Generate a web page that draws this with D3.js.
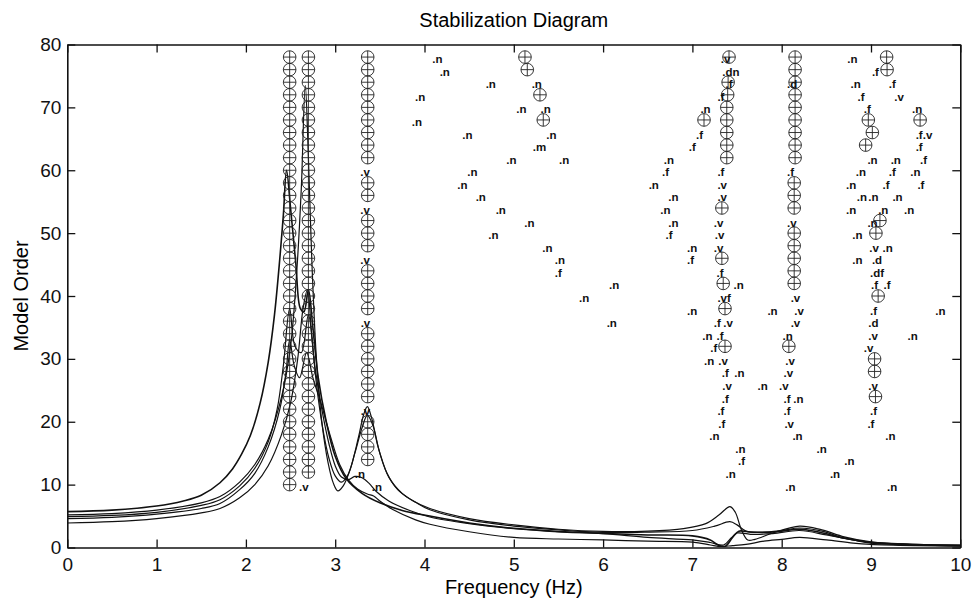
<!DOCTYPE html>
<html>
<head>
<meta charset="utf-8">
<script src="https://cdn.jsdelivr.net/npm/d3@7"></script>
<style>
body { margin: 0; background: #fff; }
svg { font-family: "Liberation Sans", Arial, Helvetica, sans-serif; }
</style>
</head>
<body>
<svg id="chart"></svg>
<script>
// axis ticks
const xTicks = [0, 1, 2, 3, 4, 5, 6, 7, 8, 9, 10];
const yTicks = [0, 10, 20, 30, 40, 50, 60, 70, 80];

// spectra of the channels, scaled onto the model order axis  [Hz, value]
const spectrum1 = [[0,5.7],[0.5,5.95],[1,6.6],[1.3,7.4],[1.5,8.3],[1.71,10.3],[1.85,12.5],[1.95,14.8],[2.05,17.8],[2.16,23],[2.25,29.5],[2.32,37],[2.38,46],[2.42,53],[2.455,60],[2.5,54],[2.56,45],[2.61,38],[2.65,37.5],[2.7,41],[2.75,35],[2.81,27],[2.9,20],[3.0,14.5],[3.12,11],[3.3,8.6],[3.5,7.1],[3.75,5.9],[4.06,5.0],[4.5,3.9],[5,3.05],[5.5,2.55],[6,2.25],[6.5,2.0],[7,1.85],[7.2,1.2],[7.3,0.3],[7.37,0.2],[7.45,1.6],[7.52,2.6],[7.62,2.5],[7.8,2.4],[8.0,2.6],[8.2,2.9],[8.4,2.5],[8.7,1.5],[9,0.8],[9.5,0.45],[10,0.3]];
const spectrum2 = [[0,5.2],[0.5,5.4],[1,5.95],[1.5,7.1],[1.71,8.1],[1.93,10.4],[2.1,13.2],[2.25,17.2],[2.4,24],[2.5,32],[2.57,44],[2.62,57],[2.665,73.5],[2.7,62],[2.74,45],[2.79,30],[2.85,20],[2.92,13.5],[2.98,10.2],[3.03,9.0],[3.09,9.8],[3.17,12.5],[3.26,17.5],[3.32,21.2],[3.36,22.4],[3.41,20.5],[3.48,16],[3.58,11.8],[3.7,9.2],[3.85,7.6],[4.06,6.2],[4.5,4.6],[5,3.6],[5.5,2.9],[6,2.55],[6.5,2.6],[6.9,3.0],[7.15,3.8],[7.3,5.2],[7.42,6.5],[7.48,5.6],[7.55,2.8],[7.62,1.2],[7.7,1.3],[7.9,2.3],[8.2,3.4],[8.45,2.8],[8.7,1.7],[9,0.9],[9.5,0.5],[10,0.4]];
const spectrum3 = [[0,4.9],[0.5,5.1],[1,5.6],[1.5,6.7],[1.71,7.6],[1.93,9.8],[2.1,12.6],[2.25,16.8],[2.35,22],[2.42,29],[2.49,38],[2.55,32],[2.62,31],[2.7,37],[2.77,29],[2.85,22],[2.93,16.5],[3.0,13],[3.07,11.2],[3.15,10.8],[3.22,11.3],[3.3,11.1],[3.38,10.2],[3.46,8.9],[3.6,7.4],[3.85,5.8],[4.06,4.85],[4.5,3.8],[5,3.0],[5.5,2.5],[6,2.2],[6.5,1.6],[7,1.2],[7.2,0.8],[7.35,0.4],[7.44,1.6],[7.5,2.3],[7.65,2.1],[7.9,2.2],[8.2,2.7],[8.5,2.0],[8.8,1.2],[9,0.7],[9.5,0.4],[10,0.25]];
const spectrum4 = [[0,4.6],[0.5,4.8],[1,5.3],[1.5,6.2],[1.71,7.0],[1.93,9.2],[2.1,11.8],[2.25,16],[2.38,22],[2.45,28],[2.49,33],[2.54,29],[2.6,27],[2.68,31],[2.75,27],[2.84,23],[2.94,18],[3.05,13.2],[3.15,10.7],[3.25,9.3],[3.36,8.5],[3.43,8.2],[3.5,7.4],[3.65,6.0],[3.9,4.4],[4.06,3.7],[4.5,2.5],[5,1.6],[5.5,1.35],[6,1.2],[6.5,1.0],[7,0.85],[7.2,0.4],[7.3,0.15],[7.45,0.3],[7.6,0.5],[7.8,1.0],[8.0,1.3],[8.2,1.6],[8.5,1.2],[8.8,0.7],[9,0.5],[9.5,0.3],[10,0.2]];
const spectrum5 = [[0,3.9],[0.5,4.1],[1,4.6],[1.5,5.5],[1.71,6.2],[1.93,7.9],[2.1,10],[2.25,13],[2.4,18],[2.5,23],[2.58,30],[2.64,38],[2.69,41],[2.73,35],[2.79,26],[2.86,19],[2.93,14.2],[3.0,11.4],[3.07,10.4],[3.14,11.5],[3.22,15],[3.3,19],[3.36,21],[3.42,19.5],[3.5,15],[3.6,11.2],[3.75,8.6],[3.9,7.2],[4.06,6.0],[4.5,4.4],[5,3.4],[5.5,2.8],[6,2.4],[6.5,2.45],[7,2.7],[7.25,3.4],[7.42,4.1],[7.5,3.6],[7.6,2.6],[7.75,2.4],[8.0,2.7],[8.2,3.1],[8.45,2.6],[8.7,1.5],[9,0.8],[9.5,0.45],[10,0.35]];

// stable poles (circle with plus)  [Hz, model order]
const stablePoles = [
  [2.49,10],[2.49,12],[2.49,14],[2.49,16],[2.49,18],[2.49,20],[2.49,22],[2.49,24],[2.49,26],[2.49,28],[2.49,30],[2.49,32],
  [2.49,34],[2.49,36],[2.49,38],[2.49,40],[2.49,42],[2.49,44],[2.49,46],[2.49,48],[2.49,50],[2.49,52],[2.49,54],[2.49,56],
  [2.49,58],[2.49,60],[2.49,62],[2.49,64],[2.49,66],[2.49,68],[2.49,70],[2.49,72],[2.49,74],[2.49,76],[2.49,78],
  [2.70,12],[2.70,14],[2.70,16],[2.70,18],[2.70,20],[2.70,22],[2.70,24],[2.70,26],[2.70,28],[2.70,30],[2.70,32],[2.70,34],
  [2.70,36],[2.70,38],[2.70,40],[2.70,42],[2.70,44],[2.70,46],[2.70,48],[2.70,50],[2.70,52],[2.70,54],[2.70,56],[2.70,58],
  [2.70,60],[2.70,62],[2.70,64],[2.70,66],[2.70,68],[2.70,70],[2.70,72],[2.70,74],[2.70,76],[2.70,78],
  [3.364,78],[3.364,76],[3.364,74],[3.364,72],[3.364,70],[3.364,68],[3.364,66],[3.364,64],[3.364,62],[3.364,58],[3.364,56],
  [3.364,52],[3.364,50],[3.364,48],[3.364,44],[3.364,42],[3.364,40],[3.364,38],[3.364,34],[3.364,32],[3.364,30],[3.364,28],
  [3.364,26],[3.364,24],[3.364,20],[3.364,18],[3.364,16],[3.364,14],
  [5.125,78],[5.151,76],[5.293,72],[5.33,68],[7.13,68],
  [7.41,78],[7.40,74],[7.395,72],[7.385,70],[7.385,68],[7.385,66],[7.385,64],[7.385,62],[7.33,54],[7.33,46],[7.345,42],
  [7.365,38],[7.365,32],
  [8.15,78],[8.15,76],[8.15,74],[8.15,72],[8.15,70],[8.15,68],[8.15,66],[8.15,64],[8.15,62],[8.14,58],[8.14,56],[8.14,54],
  [8.14,50],[8.14,48],[8.14,46],[8.14,44],[8.14,42],[8.08,32],
  [9.175,78],[9.18,76],[8.97,68],[9.015,66],[8.94,64],[9.10,52],[9.055,50],[9.08,40],[9.04,30],[9.04,28],[9.05,24],[9.55,68]
];

// other poles with their stability code  [Hz, model order, code]
const codedPoles = [
  [2.595,10,'v'],[3.28,60,'v'],[3.28,54,'v'],[3.28,46,'v'],[3.285,36,'v'],[3.285,22,'v'],[3.22,12,'n'],[3.41,10,'n'],
  [4.087,78,'n'],[4.17,76,'n'],[4.685,74,'n'],[5.20,74,'n'],[3.894,72,'n'],[5.028,70,'n'],[5.30,70,'n'],[3.857,68,'n'],
  [4.423,66,'n'],[5.364,66,'n'],[5.213,64,'m'],[4.916,62,'n'],[5.506,62,'n'],[4.479,60,'n'],[4.367,58,'n'],[6.51,58,'n'],
  [4.573,56,'n'],[4.797,54,'n'],[5.118,52,'n'],[4.714,50,'n'],[5.32,48,'n'],[5.46,46,'n'],[5.46,44,'f'],[6.066,42,'n'],
  [5.73,40,'n'],[6.04,36,'n'],
  [7.09,70,'n'],[7.04,66,'f'],[6.96,64,'f'],[6.68,62,'n'],[6.66,60,'f'],[6.73,56,'n'],[6.64,54,'n'],[6.73,52,'n'],
  [6.70,50,'f'],[6.94,48,'n'],[6.94,46,'f'],[6.94,38,'n'],
  [7.317,78,'v'],[7.335,76,'dn'],[7.37,74,'f'],[7.28,72,'f'],[7.28,60,'f'],[7.28,58,'v'],[7.28,56,'v'],[7.24,52,'v'],
  [7.25,50,'v'],[7.24,48,'v'],[7.27,44,'f'],[7.46,42,'n'],[7.28,40,'vf'],[7.24,36,'f'],[7.345,36,'v'],[7.11,34,'n'],
  [7.27,34,'f'],[7.20,32,'f'],[7.13,30,'n'],[7.29,30,'v'],[7.33,28,'f'],[7.47,28,'n'],[7.335,26,'v'],[7.73,26,'n'],
  [7.33,24,'f'],[7.28,22,'f'],[7.29,20,'f'],[7.19,18,'n'],[7.48,16,'n'],[7.51,14,'f'],[7.37,12,'n'],
  [8.06,74,'d'],[8.06,60,'f'],[8.06,52,'v'],[8.10,40,'v'],[7.84,38,'n'],[8.14,38,'v'],[8.10,36,'v'],[8.01,34,'n'],
  [8.04,30,'v'],[8.02,28,'v'],[7.97,26,'v'],[8.02,24,'f'],[8.13,24,'n'],[8.02,22,'f'],[8.03,20,'v'],[8.12,18,'n'],
  [8.39,16,'n'],[8.70,14,'n'],[8.54,12,'n'],[8.04,10,'n'],
  [8.735,78,'n'],[9.01,76,'f'],[8.77,74,'n'],[9.20,74,'f'],[8.85,72,'f'],[9.26,72,'v'],[8.92,70,'f'],[9.46,70,'n'],
  [9.50,66,'f'],[9.58,66,'v'],[9.50,64,'f'],[8.96,62,'n'],[9.22,62,'n'],[9.55,62,'f'],[8.83,60,'n'],[9.20,60,'f'],
  [9.44,60,'n'],[8.72,58,'n'],[9.13,58,'f'],[9.52,58,'f'],[8.84,56,'n'],[8.97,56,'n'],[9.24,56,'n'],[8.72,54,'n'],
  [9.08,54,'n'],[9.37,54,'n'],[8.96,52,'n'],[8.79,50,'n'],[8.98,48,'v'],[9.13,48,'n'],[8.79,46,'n'],[9.01,46,'d'],
  [8.99,44,'df'],[9.0,42,'f'],[9.14,42,'f'],[8.99,38,'f'],[9.72,38,'n'],[8.97,36,'d'],[8.97,34,'v'],[9.41,34,'n'],
  [8.92,32,'v'],[8.97,26,'v'],[8.99,22,'f'],[8.96,20,'f'],[9.16,18,'n'],[9.18,10,'n']
];

class StabilizationDiagram {

    constructor( config ) {
        this.config = {
            parent: config.parent,
            width: config.width || 974,
            height: config.height || 599,
            margin: config.margin || {top:44.5, right:13.7, bottom:51.5, left:67.3},
            title: config.title || '',
            xlabel: config.xlabel || '',
            ylabel: config.ylabel || ''
        }
        this.init();
    }

    init() {
        let self = this;

        self.svg = d3.select( self.config.parent )
            .attr('width', self.config.width)
            .attr('height', self.config.height);

        self.inner_width = self.config.width - self.config.margin.left - self.config.margin.right;
        self.inner_height = self.config.height - self.config.margin.top - self.config.margin.bottom;

        self.chart = self.svg.append('g')
            .attr('transform', `translate(${self.config.margin.left}, ${self.config.margin.top})`);

        self.xscale = d3.scaleLinear()
            .domain( [0, 10] )
            .range( [0, self.inner_width] );

        self.yscale = d3.scaleLinear()
            .domain( [0, 80] )
            .range( [self.inner_height, 0] );

        self.svg.append('text')
            .style('font-size', '20px')
            .attr('x', self.config.margin.left + self.inner_width / 2)
            .attr('y', 27)
            .attr('text-anchor', 'middle')
            .text( self.config.title );

        self.svg.append('text')
            .style('font-size', '20px')
            .attr('x', self.config.margin.left + self.inner_width / 2)
            .attr('y', 594)
            .attr('text-anchor', 'middle')
            .text( self.config.xlabel );

        self.svg.append('text')
            .style('font-size', '20px')
            .attr('transform', `rotate(-90)`)
            .attr('x', -(self.config.margin.top + self.inner_height / 2))
            .attr('y', 28)
            .attr('text-anchor', 'middle')
            .text( self.config.ylabel );
    }

    render() {
        let self = this;

        self.chart.append('clipPath')
            .attr('id', 'plot-clip')
            .append('rect')
            .attr('width', self.inner_width)
            .attr('height', self.inner_height);

        const line = d3.line()
            .x( d => self.xscale(d[0]) )
            .y( d => self.yscale(d[1]) )
            .curve( d3.curveCatmullRom.alpha(0.5) );

        const spectra = [spectrum1, spectrum2, spectrum3, spectrum4, spectrum5];
        self.chart.append('g')
            .attr('clip-path', 'url(#plot-clip)')
            .selectAll('path')
            .data(spectra)
            .join('path')
            .attr('d', d => line(d))
            .attr('fill', 'none')
            .attr('stroke', '#111')
            .attr('stroke-width', (d, i) => i == 0 ? 1.6 : 1.2);

        // stable poles: circle with a plus
        const r = 6.3;
        const marks = self.chart.append('g')
            .selectAll('g')
            .data(stablePoles)
            .join('g')
            .attr('transform', d => `translate(${self.xscale(d[0])}, ${self.yscale(d[1])})`)
            .attr('stroke', '#222')
            .attr('stroke-width', 0.9)
            .attr('fill', 'none');
        marks.append('circle').attr('r', r);
        marks.append('line').attr('x1', -r).attr('x2', r);
        marks.append('line').attr('y1', -r).attr('y2', r);

        // coded poles: text labels like ".n"
        self.chart.append('g')
            .selectAll('text')
            .data(codedPoles)
            .join('text')
            .attr('x', d => self.xscale(d[0]))
            .attr('y', d => self.yscale(d[1]) + 6)
            .style('font-size', '11.5px')
            .style('font-weight', 'bold')
            .attr('fill', '#111')
            .text( d => '.' + d[2] );

        // axes with inward ticks on all four sides
        const xaxis = d3.axisBottom( self.xscale )
            .tickValues(xTicks)
            .tickSize(-8)
            .tickSizeOuter(0)
            .tickPadding(10);
        const yaxis = d3.axisLeft( self.yscale )
            .tickValues(yTicks)
            .tickSize(-8)
            .tickSizeOuter(0)
            .tickPadding(6);
        const xaxis_top = d3.axisTop( self.xscale )
            .tickValues(xTicks)
            .tickSize(-8)
            .tickSizeOuter(0)
            .tickFormat('');
        const yaxis_right = d3.axisRight( self.yscale )
            .tickValues(yTicks)
            .tickSize(-8)
            .tickSizeOuter(0)
            .tickFormat('');

        const groups = [
            self.chart.append('g').attr('transform', `translate(0, ${self.inner_height})`).call(xaxis),
            self.chart.append('g').call(yaxis),
            self.chart.append('g').call(xaxis_top),
            self.chart.append('g').attr('transform', `translate(${self.inner_width}, 0)`).call(yaxis_right)
        ];
        groups.forEach( g => {
            g.attr('font-family', null).attr('font-size', null);
            g.selectAll('text').style('font-size', '19px').attr('fill', '#111');
            g.select('.domain').attr('stroke', '#111').attr('stroke-width', 1.6);
            g.selectAll('.tick line').attr('stroke', '#111').attr('stroke-width', 1.3);
        });
    }
}

const diagram = new StabilizationDiagram({
    parent: '#chart',
    width: 974,
    height: 599,
    title: 'Stabilization Diagram',
    xlabel: 'Frequency (Hz)',
    ylabel: 'Model Order'
});
diagram.render();
</script>
</body>
</html>
